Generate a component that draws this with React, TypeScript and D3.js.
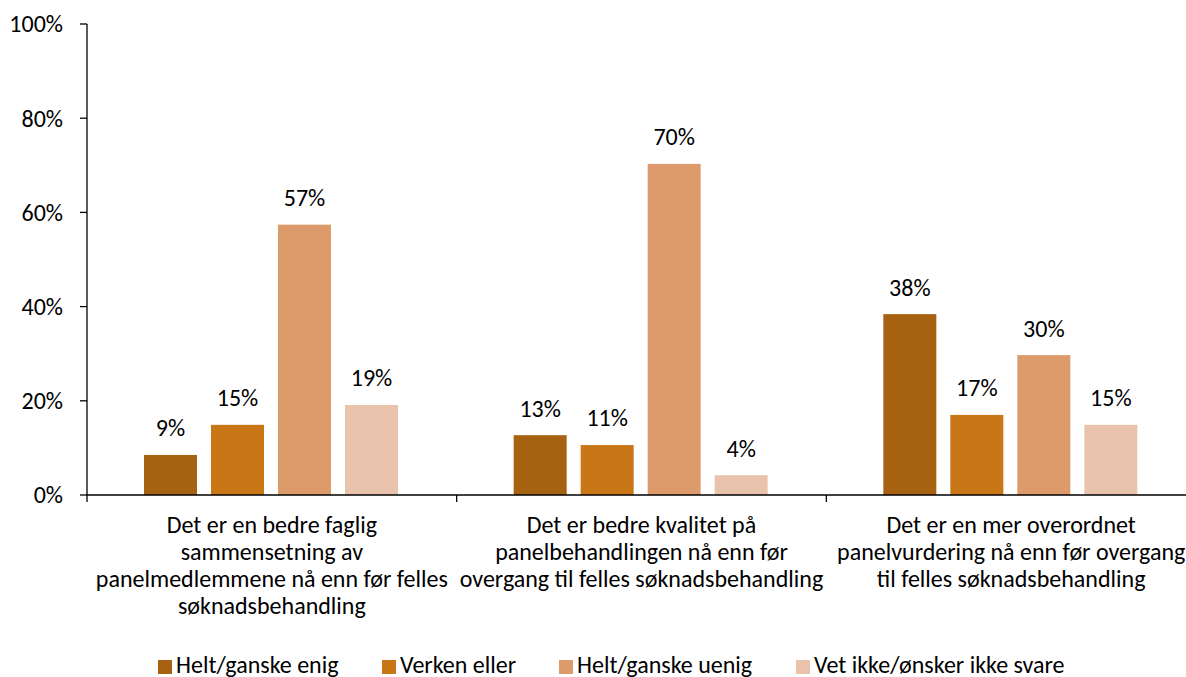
import React from "react";
import * as d3 from "d3";

const categories: string[][] = [
  ["Det er en bedre faglig", "sammensetning av", "panelmedlemmene nå enn før felles", "søknadsbehandling"],
  ["Det er bedre kvalitet på", "panelbehandlingen nå enn før", "overgang til felles søknadsbehandling"],
  ["Det er en mer overordnet", "panelvurdering nå enn før overgang", "til felles søknadsbehandling"],
];
const seriesNames = ["Helt/ganske enig", "Verken eller", "Helt/ganske uenig", "Vet ikke/ønsker ikke svare"];
const seriesColors = ["#A66111", "#C97616", "#DD9B6C", "#E9C3AC"];
const enig = [8.5, 12.7, 38.4];
const verken = [14.9, 10.6, 17.0];
const uenig = [57.4, 70.3, 29.7];
const vetIkke = [19.1, 4.2, 14.9];
const yTicks = [0, 20, 40, 60, 80, 100];

const series = [enig, verken, uenig, vetIkke];

const W = 1186;
const H = 677;
const left = 87;
const right = 1196;
const top = 24;
const bottom = 495;
const font = "Carlito, Lato, 'Open Sans', sans-serif";
const fs = 24;

export default function App() {
  const x0 = d3.scaleBand<number>().domain(d3.range(categories.length)).range([left, right]).paddingInner(0).paddingOuter(0);
  const x1 = d3.scaleBand<number>().domain(d3.range(series.length)).range([57, 311]).paddingInner(14 / 67).paddingOuter(0);
  const y = d3.scaleLinear().domain([0, 100]).range([bottom, top]);

  return (
    <svg width={W} height={H} style={{ display: "block", position: "absolute", left: 0, top: 0 }} fontFamily={font}>
      {/* y axis */}
      <line x1={left} x2={left} y1={top} y2={bottom} stroke="#000" strokeWidth={1.3} />
      {yTicks.map((t) => (
        <g key={t}>
          <line x1={left - 7} x2={left} y1={y(t)} y2={y(t)} stroke="#000" strokeWidth={1.3} />
          <text x={left - 24} y={y(t)} dy="0.35em" textAnchor="end" fontSize={fs} fill="#000">
            {t}%
          </text>
        </g>
      ))}
      {/* bars */}
      {categories.map((c, ci) => (
        <g key={ci} transform={`translate(${x0(ci)},0)`}>
          {series.map((s, si) => {
            const v = s[ci];
            const bx = x1(si)!;
            const bw = x1.bandwidth();
            return (
              <g key={si}>
                <rect x={bx} y={y(v)} width={bw} height={bottom - y(v)} fill={seriesColors[si]} />
                <text x={bx + bw / 2} y={y(v) - 27} dy="0.35em" textAnchor="middle" fontSize={fs} fill="#000">
                  {Math.round(v)}%
                </text>
              </g>
            );
          })}
        </g>
      ))}
      {/* x axis */}
      <line x1={left} x2={W} y1={bottom} y2={bottom} stroke="#000" strokeWidth={1.3} />
      {d3.range(categories.length + 1).map((i) => {
        const xx = i < categories.length ? x0(i)! : right;
        return <line key={i} x1={xx} x2={xx} y1={bottom} y2={bottom + 7} stroke="#000" strokeWidth={1.3} />;
      })}
      {categories.map((lines, ci) => (
        <text key={ci} x={x0(ci)! + x0.bandwidth() / 2} textAnchor="middle" fontSize={fs} fill="#000">
          {lines.map((l, li) => (
            <tspan key={li} x={x0(ci)! + x0.bandwidth() / 2} y={525 + li * 27} dy="0.35em">
              {l}
            </tspan>
          ))}
        </text>
      ))}
      {/* legend */}
      {seriesNames.map((n, i) => {
        const lx = [158, 382, 559, 796][i];
        return (
          <g key={n}>
            <rect x={lx} y={660} width={14} height={14} fill={seriesColors[i]} />
            <text x={lx + 18} y={665} dy="0.35em" fontSize={fs} fill="#000">
              {n}
            </text>
          </g>
        );
      })}
    </svg>
  );
}
